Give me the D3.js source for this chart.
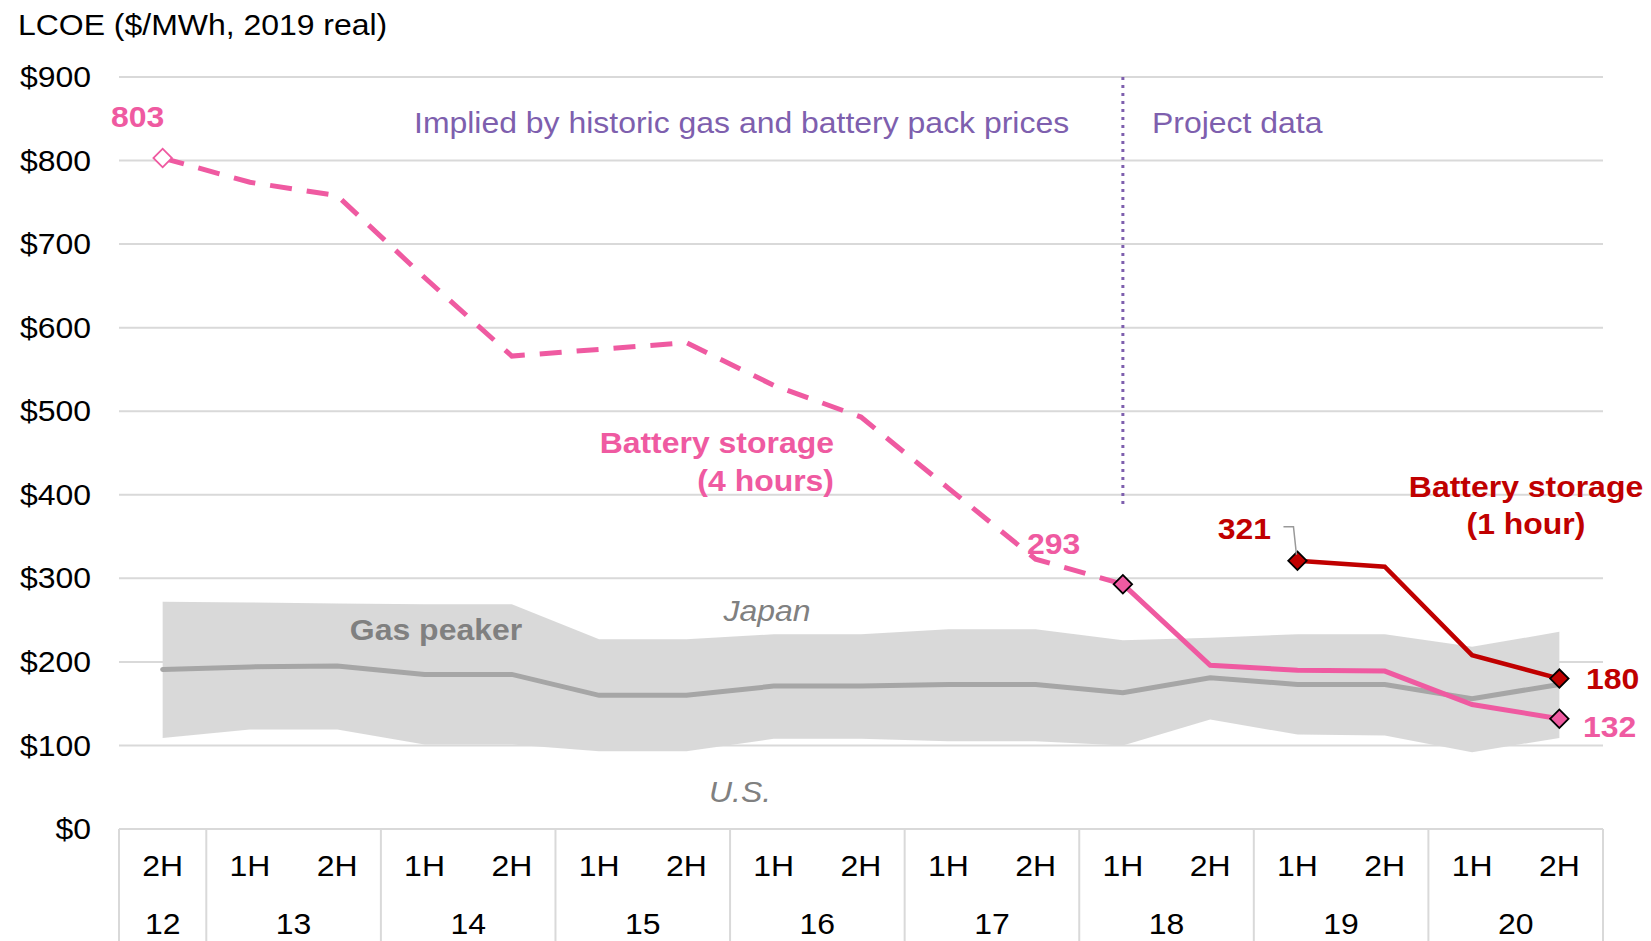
<!DOCTYPE html>
<html>
<head>
<meta charset="utf-8">
<script src="https://cdn.jsdelivr.net/npm/d3@7"></script>
<style>
body { margin: 0; background: #fff; }
svg { display: block; }
text { font-family: Arial, "Liberation Sans", sans-serif; }
</style>
</head>
<body>
<svg id="chart"></svg>
<script>
// half-year periods
const halves = ['2H', '1H', '2H', '1H', '2H', '1H', '2H', '1H', '2H', '1H', '2H', '1H', '2H', '1H', '2H', '1H', '2H'];
const years = ['12', '13', '13', '14', '14', '15', '15', '16', '16', '17', '17', '18', '18', '19', '19', '20', '20'];

// LCOE values ($/MWh)
const battery4h = [803, 774, 758, 660, 566, 574, 582, 531, 493, 408, 323, 293, 196, 190, 189, 149, 132];
const battery1h = [null, null, null, null, null, null, null, null, null, null, null, null, null, 321, 314, 208, 180];
const gasMid = [191, 194, 195, 185, 185, 160, 160, 171, 171, 173, 173, 163, 181, 173, 173, 156, 173];
const gasJapan = [272, 271, 270, 269, 269, 227, 227, 233, 233, 239, 239, 226, 229, 233, 233, 218, 236];
const gasUS = [109, 119, 119, 101, 101, 93, 93, 108, 108, 105, 105, 100, 131, 113, 112, 92, 109];
const yTicks = [0, 100, 200, 300, 400, 500, 600, 700, 800, 900];

const projectStart = 11; // 1H18, first index with project data

const width = 1651, height = 941;
const margin = { top: 77, right: 48, bottom: 112, left: 119 };

const pink = '#ef5aa1', red = '#c00000', purple = '#7e5fae', greyText = '#808080';
const fontSize = '30px';

// text in the source is a little wider than Arial at its height
function stretch(sel) {
    sel.each(function () {
        const t = d3.select(this);
        const tx = +t.attr('x') || 0, ty = +t.attr('y') || 0;
        t.attr('x', 0).attr('y', 0)
            .attr('transform', `translate(${tx},${ty}) scale(1.065,1)`);
    });
}

const svg = d3.select('#chart')
    .attr('width', width)
    .attr('height', height);

const idx = d3.range(halves.length);
const x = d3.scaleBand().domain(idx).range([margin.left, width - margin.right]).padding(0);
const cx = i => x(i) + x.bandwidth() / 2;
const y = d3.scaleLinear().domain([0, 900]).range([height - margin.bottom, margin.top]);

// title
svg.append('text')
    .attr('x', 18).attr('y', 35)
    .style('font-size', fontSize)
    .attr('fill', '#000')
    .text('LCOE ($/MWh, 2019 real)')
    .call(stretch);

// gas peaker band (drawn below gridlines)
const band = d3.area()
    .x(i => cx(i))
    .y0(i => y(gasUS[i]))
    .y1(i => y(gasJapan[i]));
svg.append('path')
    .datum(idx)
    .attr('d', band)
    .attr('fill', '#bfbfbf')
    .attr('fill-opacity', 0.6);

// gridlines
svg.append('g')
    .selectAll('line')
    .data(yTicks.filter(d => d > 0))
    .join('line')
    .attr('x1', margin.left).attr('x2', width - margin.right)
    .attr('y1', d => y(d)).attr('y2', d => y(d))
    .attr('stroke', '#d9d9d9')
    .attr('stroke-width', 2);

// y axis labels
const yAxis = d3.axisLeft(y).tickValues(yTicks).tickSize(0).tickPadding(28)
    .tickFormat(d => '$' + d);
svg.append('g')
    .attr('transform', `translate(${margin.left},0)`)
    .call(yAxis)
    .call(g => g.select('.domain').remove())
    .call(g => g.selectAll('text')
        .style('font-size', fontSize)
        .style('font-family', 'Arial, "Liberation Sans", sans-serif')
        .attr('fill', '#000')
        .call(stretch));

// category axis box
const axisG = svg.append('g');
axisG.append('line')
    .attr('x1', margin.left).attr('x2', width - margin.right)
    .attr('y1', y(0)).attr('y2', y(0))
    .attr('stroke', '#d9d9d9').attr('stroke-width', 2);
const bounds = idx.filter(i => i === 0 || years[i] !== years[i - 1]).map(i => x(i));
bounds.push(width - margin.right);
axisG.selectAll('.sep')
    .data(bounds)
    .join('line')
    .attr('class', 'sep')
    .attr('x1', d => d).attr('x2', d => d)
    .attr('y1', y(0)).attr('y2', height)
    .attr('stroke', '#d9d9d9').attr('stroke-width', 2);
axisG.selectAll('.half')
    .data(idx)
    .join('text')
    .attr('class', 'half')
    .attr('x', i => cx(i))
    .attr('y', y(0) + 47)
    .attr('text-anchor', 'middle')
    .style('font-size', fontSize)
    .text(i => halves[i])
    .call(stretch);
const yearGroups = d3.groups(idx, i => years[i]);
axisG.selectAll('.year')
    .data(yearGroups)
    .join('text')
    .attr('class', 'year')
    .attr('x', d => d3.mean(d[1], i => cx(i)))
    .attr('y', y(0) + 105)
    .attr('text-anchor', 'middle')
    .style('font-size', fontSize)
    .text(d => d[0])
    .call(stretch);

// gas peaker mid line
svg.append('path')
    .datum(idx)
    .attr('d', d3.line().x(i => cx(i)).y(i => y(gasMid[i])))
    .attr('fill', 'none')
    .attr('stroke', '#a6a6a6')
    .attr('stroke-width', 5)
    .attr('stroke-linecap', 'round');

// divider between implied and project data
svg.append('line')
    .attr('x1', cx(projectStart)).attr('x2', cx(projectStart))
    .attr('y1', y(900)).attr('y2', y(385))
    .attr('stroke', purple)
    .attr('stroke-width', 3)
    .attr('stroke-dasharray', '3,5');

// battery 4h: dashed (implied) then solid (project)
const line = d3.line().defined(i => battery4h[i] != null).x(i => cx(i)).y(i => y(battery4h[i]));
svg.append('path')
    .datum(idx.filter(i => i <= projectStart))
    .attr('d', line)
    .attr('fill', 'none')
    .attr('stroke', pink)
    .attr('stroke-width', 5)
    .attr('stroke-dasharray', '22,15');
svg.append('path')
    .datum(idx.filter(i => i >= projectStart))
    .attr('d', line)
    .attr('fill', 'none')
    .attr('stroke', pink)
    .attr('stroke-width', 5);

// battery 1h
const line1 = d3.line().defined(i => battery1h[i] != null).x(i => cx(i)).y(i => y(battery1h[i]));
svg.append('path')
    .datum(idx)
    .attr('d', line1)
    .attr('fill', 'none')
    .attr('stroke', red)
    .attr('stroke-width', 4.5);

// markers
const diamond = d3.symbol(d3.symbolSquare, 170);
const markers = [
    { i: 0, v: battery4h[0], fill: '#fff', stroke: pink },
    { i: projectStart, v: battery4h[projectStart], fill: pink, stroke: '#000' },
    { i: 16, v: battery4h[16], fill: pink, stroke: '#000' },
    { i: 13, v: battery1h[13], fill: red, stroke: '#000' },
    { i: 16, v: battery1h[16], fill: red, stroke: '#000' }
];
svg.selectAll('.mk')
    .data(markers)
    .join('path')
    .attr('class', 'mk')
    .attr('d', diamond)
    .attr('transform', d => `translate(${cx(d.i)},${y(d.v)}) rotate(45)`)
    .attr('fill', d => d.fill)
    .attr('stroke', d => d.stroke)
    .attr('stroke-width', 1.8);

// leader for 321
svg.append('path')
    .attr('d', `M${cx(13) - 14},${y(321) - 34}H${cx(13) - 4}L${cx(13) - 1},${y(321) - 6}`)
    .attr('fill', 'none')
    .attr('stroke', '#999')
    .attr('stroke-width', 1.5);

// annotations
const ann = [
    { t: '803', x: cx(0) - 25, y: 117, a: 'middle', c: pink, w: 'bold' },
    { t: 'Implied by historic gas and battery pack prices', x: 414, y: 123, a: 'start', c: purple, w: 'normal' },
    { t: 'Project data', x: 1152, y: 123, a: 'start', c: purple, w: 'normal' },
    { t: 'Battery storage', x: 834, y: 443, a: 'end', c: pink, w: 'bold' },
    { t: '(4 hours)', x: 834, y: 481, a: 'end', c: pink, w: 'bold' },
    { t: '293', x: 1027, y: 544, a: 'start', c: pink, w: 'bold' },
    { t: '321', x: 1271, y: 529, a: 'end', c: red, w: 'bold' },
    { t: 'Battery storage', x: 1526, y: 487, a: 'middle', c: red, w: 'bold' },
    { t: '(1 hour)', x: 1526, y: 524, a: 'middle', c: red, w: 'bold' },
    { t: '180', x: 1586, y: 679, a: 'start', c: red, w: 'bold' },
    { t: '132', x: 1583, y: 727, a: 'start', c: pink, w: 'bold' },
    { t: 'Gas peaker', x: 436, y: 630, a: 'middle', c: greyText, w: 'bold' },
    { t: 'Japan', x: 767, y: 611, a: 'middle', c: greyText, w: 'normal', s: 'italic' },
    { t: 'U.S.', x: 740, y: 792, a: 'middle', c: greyText, w: 'normal', s: 'italic' }
];
svg.append('g')
    .selectAll('text')
    .data(ann)
    .join('text')
    .attr('x', d => d.x)
    .attr('y', d => d.y)
    .attr('dy', '0.32em')
    .attr('text-anchor', d => d.a)
    .attr('fill', d => d.c)
    .style('font-size', fontSize)
    .style('font-weight', d => d.w)
    .style('font-style', d => d.s || 'normal')
    .text(d => d.t)
    .call(stretch);
</script>
</body>
</html>
